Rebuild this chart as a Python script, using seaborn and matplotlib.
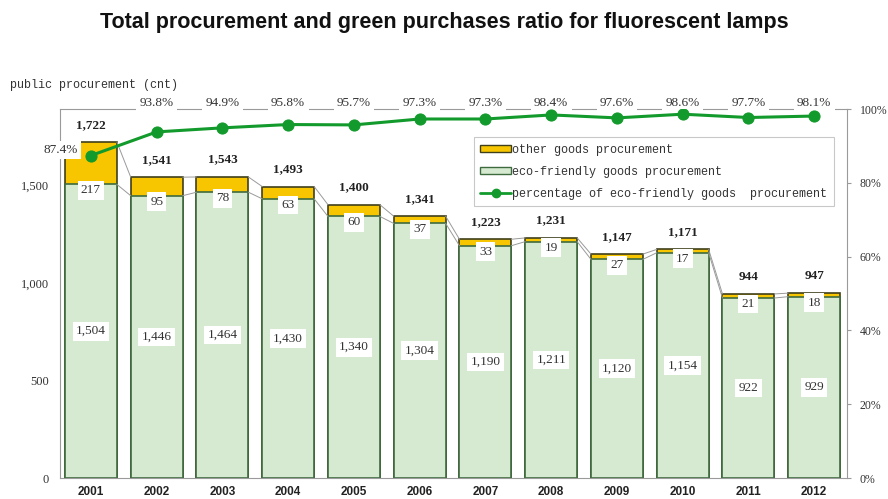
import numpy as np
import pandas as pd
import seaborn as sns
import matplotlib.pyplot as plt
from matplotlib.patches import Patch
from matplotlib.lines import Line2D

years = ["2001", "2002", "2003", "2004", "2005", "2006", "2007", "2008", "2009", "2010", "2011", "2012"]
eco = [1504, 1446, 1464, 1430, 1340, 1304, 1190, 1211, 1120, 1154, 922, 929]
other = [217, 95, 78, 63, 60, 37, 33, 19, 27, 17, 21, 18]
totals = [1722, 1541, 1543, 1493, 1400, 1341, 1223, 1231, 1147, 1171, 944, 947]
pct = [87.4, 93.8, 94.9, 95.8, 95.7, 97.3, 97.3, 98.4, 97.6, 98.6, 97.7, 98.1]

df = pd.DataFrame({"year": years, "eco": eco, "other": other, "total": totals, "pct": pct})
df["stack"] = df["eco"] + df["other"]

sns.set_style("white")
serif = "Liberation Serif"
mono = "Liberation Mono"

fig = plt.figure(figsize=(8.88, 4.99), dpi=100)
ax = fig.add_axes([0.0676, 0.042, 0.8863, 0.7395])

green_fill = "#d6e9d1"
green_edge = "#3e6b3e"
gold = "#f7c600"
line_green = "#139a2c"
w = 0.79

sns.barplot(data=df, x="year", y="stack", color=gold, saturation=1, width=w,
            edgecolor="#3f3f1c", linewidth=1.2, ax=ax)
sns.barplot(data=df, x="year", y="eco", color=green_fill, saturation=1, width=w,
            edgecolor=green_edge, linewidth=1.2, ax=ax)

# series lines between bars
n = len(years)
for i in range(n - 1):
    for vals in (df["stack"], df["eco"]):
        ax.plot([i + w / 2, i + 1 - w / 2], [vals[i], vals[i + 1]],
                color="#9a9a9a", lw=0.7, zorder=1)

ax.set_xlim(-0.47, n - 0.5)
ax.set_ylim(0, 1890)
ax.set_yticks([0, 500, 1000, 1500])
ax.set_yticklabels(["0", "500", "1,000", "1,500"], fontfamily=serif, fontsize=9, color="#333333")
ax.set_xticks(range(n))
ax.set_xticklabels(years, fontweight="bold", fontsize=8.5, fontfamily="Liberation Sans", color="#222222")
ax.tick_params(axis="x", length=0, pad=6)
ax.tick_params(axis="y", length=0, pad=8)
ax.set_xlabel("")
ax.set_ylabel("")
for s in ax.spines.values():
    s.set_color("#9a9a9a")
    s.set_linewidth(0.8)

box = dict(boxstyle="square,pad=0.25", fc="white", ec="none")
for i in range(n):
    ax.text(i, eco[i] / 2, f"{eco[i]:,}", ha="center", va="center", fontfamily=serif,
            fontsize=9.5, color="#333333", bbox=box, zorder=5)
    ax.text(i, eco[i], f"{other[i]}", ha="center", va="top", fontfamily=serif,
            fontsize=9.5, color="#333333", bbox=box, zorder=5)
    ax.annotate(f"{totals[i]:,}", (i, df["stack"][i]), xytext=(0, 12.5), textcoords="offset points",
                ha="center", va="center", fontfamily=serif, fontweight="bold", fontsize=9.5,
                color="#222222")

ax2 = ax.twinx()
sns.lineplot(x=np.arange(n), y=df["pct"], color=line_green, lw=2.2, marker="o",
             markersize=8, markeredgecolor=line_green, ax=ax2, zorder=6)
ax2.set_ylim(0, 100)
ax2.set_yticks([0, 20, 40, 60, 80, 100])
ax2.set_yticklabels([f"{t}%" for t in [0, 20, 40, 60, 80, 100]], fontfamily=serif,
                    fontsize=8.5, color="#333333")
ax2.tick_params(axis="y", length=3, color="#9a9a9a", pad=6)
ax2.set_ylabel("")
for s in ax2.spines.values():
    s.set_visible(False)

for i in range(n):
    if i == 0:
        ax2.annotate(f"{pct[i]}%", (i, pct[i]), xytext=(-22, 4), textcoords="offset points",
                     ha="center", va="center", fontfamily=serif, fontsize=9.5, color="#333333",
                     bbox=box)
    else:
        ax2.text(i, 101.5, f"{pct[i]}%", ha="center", va="center", fontfamily=serif,
                 fontsize=9.5, color="#333333", bbox=box, clip_on=False)

handles = [
    Patch(facecolor=gold, edgecolor="#3f3f1c", label="other goods procurement"),
    Patch(facecolor=green_fill, edgecolor=green_edge, label="eco-friendly goods procurement"),
    Line2D([0], [0], color=line_green, lw=2, marker="o", markersize=6,
           label="percentage of eco-friendly goods  procurement"),
]
leg = ax2.legend(handles=handles, loc="upper right", bbox_to_anchor=(0.983, 0.924),
                 prop={"family": mono, "size": 8.5}, frameon=True, fancybox=False,
                 edgecolor="#bbbbbb", handlelength=2.6, handleheight=0.6, handletextpad=0.1,
                 labelspacing=0.85, borderpad=0.55, borderaxespad=0)
leg.get_frame().set_linewidth(0.8)
for t in leg.get_texts():
    t.set_color("#333333")

fig.text(0.5, 0.955, "Total procurement and green purchases ratio for fluorescent lamps",
         ha="center", va="center", fontfamily="Liberation Sans", fontweight="bold",
         fontsize=15.5, color="#111111")
fig.text(0.011, 0.83, "public procurement (cnt)", ha="left", va="center",
         fontfamily=mono, fontsize=8.5, color="#333333")

fig.savefig("out.png", dpi=100)
